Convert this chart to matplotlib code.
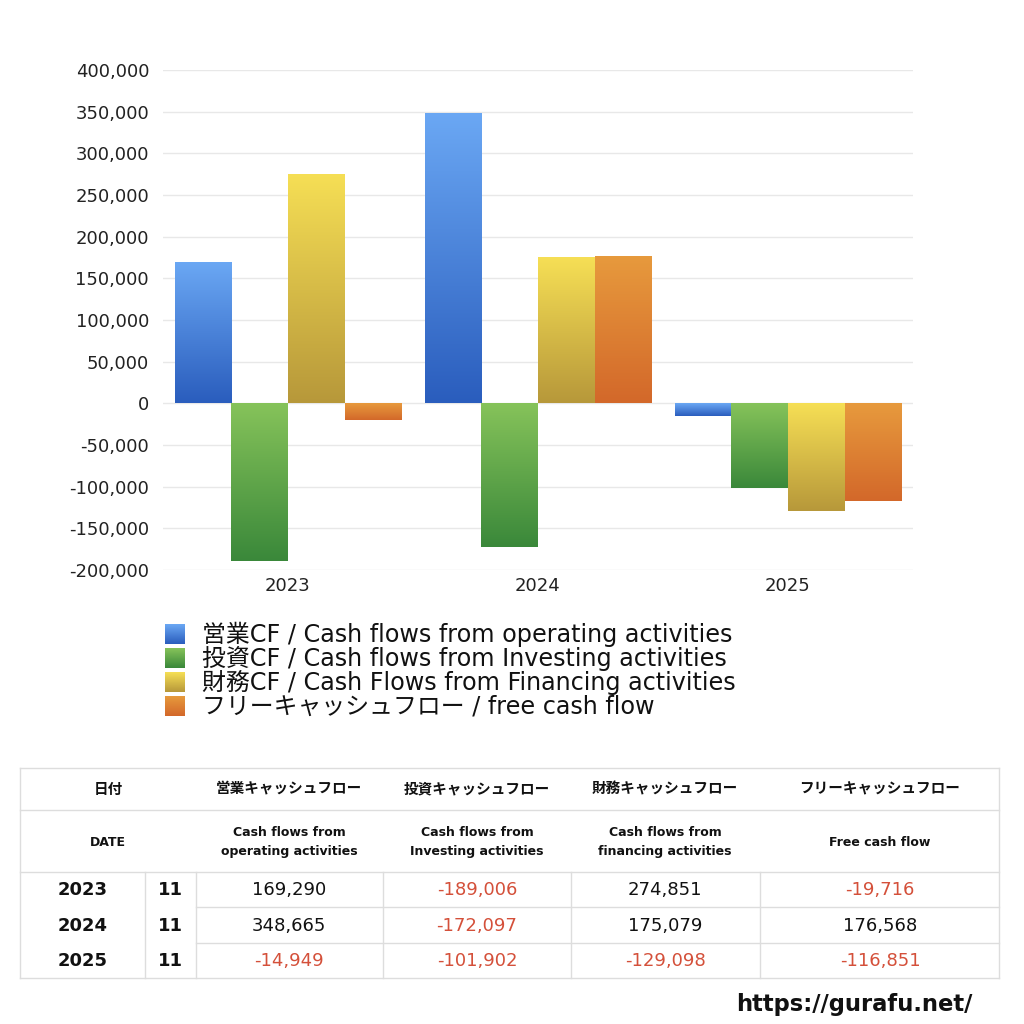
import matplotlib
matplotlib.use("Agg")
import matplotlib.pyplot as plt
import numpy as np
from matplotlib.colors import LinearSegmentedColormap
from matplotlib.ticker import FuncFormatter, MultipleLocator

plt.rcParams['font.family'] = ['DejaVu Sans', 'Noto Sans CJK JP']

years = ["2023", "2024", "2025"]
months = ["11", "11", "11"]
operating = [169290, 348665, -14949]
investing = [-189006, -172097, -101902]
financing = [274851, 175079, -129098]
free_cf = [-19716, 176568, -116851]

legend_labels = [
    "営業CF / Cash flows from operating activities",
    "投資CF / Cash flows from Investing activities",
    "財務CF / Cash Flows from Financing activities",
    "フリーキャッシュフロー / free cash flow",
]
header_jp = ["営業キャッシュフロー", "投資キャッシュフロー", "財務キャッシュフロー", "フリーキャッシュフロー"]
header_en = ["Cash flows from\noperating activities", "Cash flows from\nInvesting activities",
             "Cash flows from\nfinancing activities", "Free cash flow"]

grads = [("#6ba8f4", "#2a5dbd"), ("#86c35a", "#3a883a"),
         ("#f6df55", "#b7983a"), ("#e79a3d", "#d3682a")]

series = [operating, investing, financing, free_cf]

fig = plt.figure(figsize=(10.24, 10.24), dpi=100)
fig.patch.set_facecolor("white")

W = H = 1024.0
ax = fig.add_axes([163 / W, 1 - 570 / H, 750 / W, 500 / H])
ax.set_xlim(-0.5, 2.5)
ax.set_ylim(-200000, 400000)
ax.yaxis.set_major_locator(MultipleLocator(50000))
ax.yaxis.set_major_formatter(FuncFormatter(lambda v, p: f"{int(v):,}"))
ax.grid(axis="y", color="#e8e8e8", linewidth=1)
ax.set_axisbelow(True)
for s in ax.spines.values():
    s.set_visible(False)
ax.tick_params(axis="both", length=0, labelsize=13, colors="#222222", pad=10)
ax.tick_params(axis="x", pad=5)
x = np.arange(len(years))
ax.set_xticks(x)
ax.set_xticklabels(years)

bw = 0.227
for i, (vals, (ctop, cbot)) in enumerate(zip(series, grads)):
    cmap = LinearSegmentedColormap.from_list(f"g{i}", [cbot, ctop])
    bars = ax.bar(x + (i - 1.5) * bw, vals, width=bw, color="none", edgecolor="none")
    for b in bars:
        x0, w = b.get_x(), b.get_width()
        y0, h = b.get_y(), b.get_height()
        ylo, yhi = min(y0, y0 + h), max(y0, y0 + h)
        grad = np.linspace(0, 1, 256).reshape(-1, 1)
        im = ax.imshow(grad, cmap=cmap, aspect="auto", origin="lower",
                       extent=[x0, x0 + w, ylo, yhi], zorder=2, interpolation="bilinear")
        im.set_clip_path(b)
ax.set_xlim(-0.5, 2.5)
ax.set_ylim(-200000, 400000)

# overlay axes in pixel coordinates for legend and table
ov = fig.add_axes([0, 0, 1, 1], zorder=-1)
ov.set_xlim(0, W)
ov.set_ylim(H, 0)
ov.axis("off")

# legend
for k, (lab, (ctop, cbot)) in enumerate(zip(legend_labels, grads)):
    yc = 634 + 24 * k
    cmap = LinearSegmentedColormap.from_list(f"l{k}", [ctop, cbot])
    grad = np.linspace(0, 1, 64).reshape(-1, 1)
    ov.imshow(grad, cmap=cmap, aspect="auto", extent=[165, 185, yc + 10, yc - 10],
              origin="upper", interpolation="bilinear")
    ov.text(202, yc, lab, fontsize=17.2, va="center", ha="left", color="#111111")
ov.set_xlim(0, W)
ov.set_ylim(H, 0)

# table
lc = "#dddddd"
L, R = 20, 999
ov.plot([L, R], [768, 768], color=lc, lw=1)
ov.plot([L, R], [810, 810], color=lc, lw=1)
ov.plot([L, R], [872, 872], color=lc, lw=1)
ov.plot([L, R], [978, 978], color=lc, lw=1)
ov.plot([196, R], [907, 907], color=lc, lw=1)
ov.plot([196, R], [943, 943], color=lc, lw=1)
ov.plot([L, L], [768, 978], color=lc, lw=1)
ov.plot([R, R], [768, 978], color=lc, lw=1)
for xv in [145, 196, 383, 571, 760]:
    ov.plot([xv, xv], [872, 978], color=lc, lw=1)

col_centers = [289, 477, 665, 880]
ov.text(108, 789, "日付", fontsize=10.5, fontweight="bold", ha="center", va="center", color="#111111")
ov.text(108, 842, "DATE", fontsize=9, fontweight="bold", ha="center", va="center", color="#111111")
for cx, hj, he in zip(col_centers, header_jp, header_en):
    ov.text(cx, 789, hj, fontsize=10.5, fontweight="bold", ha="center", va="center", color="#111111")
    ov.text(cx, 842, he, fontsize=9, fontweight="bold", ha="center", va="center",
            color="#111111", linespacing=1.6)

row_y = [890, 926, 961]
for r, yv in enumerate(row_y):
    ov.text(83, yv, years[r], fontsize=13, fontweight="bold", ha="center", va="center", color="#111111")
    ov.text(170, yv, months[r], fontsize=13, fontweight="bold", ha="center", va="center", color="#111111")
    for cx, vals in zip(col_centers, series):
        v = vals[r]
        ov.text(cx, yv, f"{v:,}", fontsize=13, ha="center", va="center",
                color="#d4503a" if v < 0 else "#111111")

ov.text(972, 1004, "https://gurafu.net/", fontsize=16.3, fontweight="bold",
        ha="right", va="center", color="#111111")

fig.savefig("out.png", dpi=100, facecolor="white")
